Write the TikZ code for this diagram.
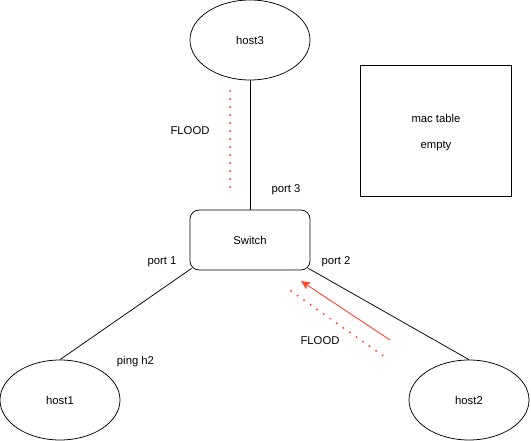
\documentclass[tikz,border=0pt]{standalone}
\usepackage{fontspec}
\setmainfont{Liberation Sans}
\usetikzlibrary{shapes.geometric,arrows.meta}
\definecolor{floodred}{RGB}{255,70,45}
\begin{document}
\begin{tikzpicture}[x=1pt,y=-1pt,
  every node/.style={font=\fontsize{11.3}{13}\selectfont},
  host/.style={ellipse,draw,line width=0.75pt,minimum width=120pt,minimum height=80pt,inner sep=0pt},
  switchbox/.style={rectangle,draw,line width=0.75pt,rounded corners=9pt,minimum width=120pt,minimum height=60pt,inner sep=0pt},
  tablebox/.style={rectangle,draw,line width=0.75pt,minimum width=151pt,minimum height=131pt,inner sep=0pt},
  link/.style={line width=0.75pt},
  flooddots/.style={floodred,line width=2.2pt,line cap=round,dash pattern=on 0pt off 8pt},
  floodarrow/.style={floodred,line width=0.9pt,-{Stealth[length=9pt,width=8pt,inset=2pt]}},
  lbl/.style={inner sep=0pt}
]
\useasboundingbox (0,0) rectangle (531,441);
\node[host] (h3) at (250,40) {host3};
\node[host] (h1) at (60,400) {host1};
\node[host] (h2) at (469,400) {host2};
\node[switchbox] (sw) at (250,240) {Switch};
\node[tablebox] (mt) at (435.5,130.5) {};
\node[lbl] (mtt) at (436,118) {mac table};
\node[lbl] (mte) at (436,146) {empty};

\draw[link] (h3.south) -- (sw.north);
\draw[link] ([xshift=2pt,yshift=2pt]sw.south west) -- (h1.north);
\draw[link] ([xshift=-2pt,yshift=2pt]sw.south east) -- (h2.north);

\coordinate (d1a) at (230,91);
\coordinate (d1b) at (230,187);
\draw[flooddots] (d1a) -- (d1b);
\coordinate (d2a) at (291,291);
\coordinate (d2b) at (389,360);
\draw[flooddots] (d2a) -- (d2b);
\coordinate (a1) at (390,340);
\coordinate (a2) at (301,281);
\draw[floodarrow] (a1) -- (a2);

\node[lbl] (fl1) at (190,131) {FLOOD};
\node[lbl] (p3) at (286,190) {port 3};
\node[lbl] (p1) at (162,262) {port 1};
\node[lbl] (p2) at (336,262) {port 2};
\node[lbl] (ping) at (135.5,362) {ping h2};
\node[lbl] (fl2) at (320,341) {FLOOD};
\end{tikzpicture}
\end{document}
